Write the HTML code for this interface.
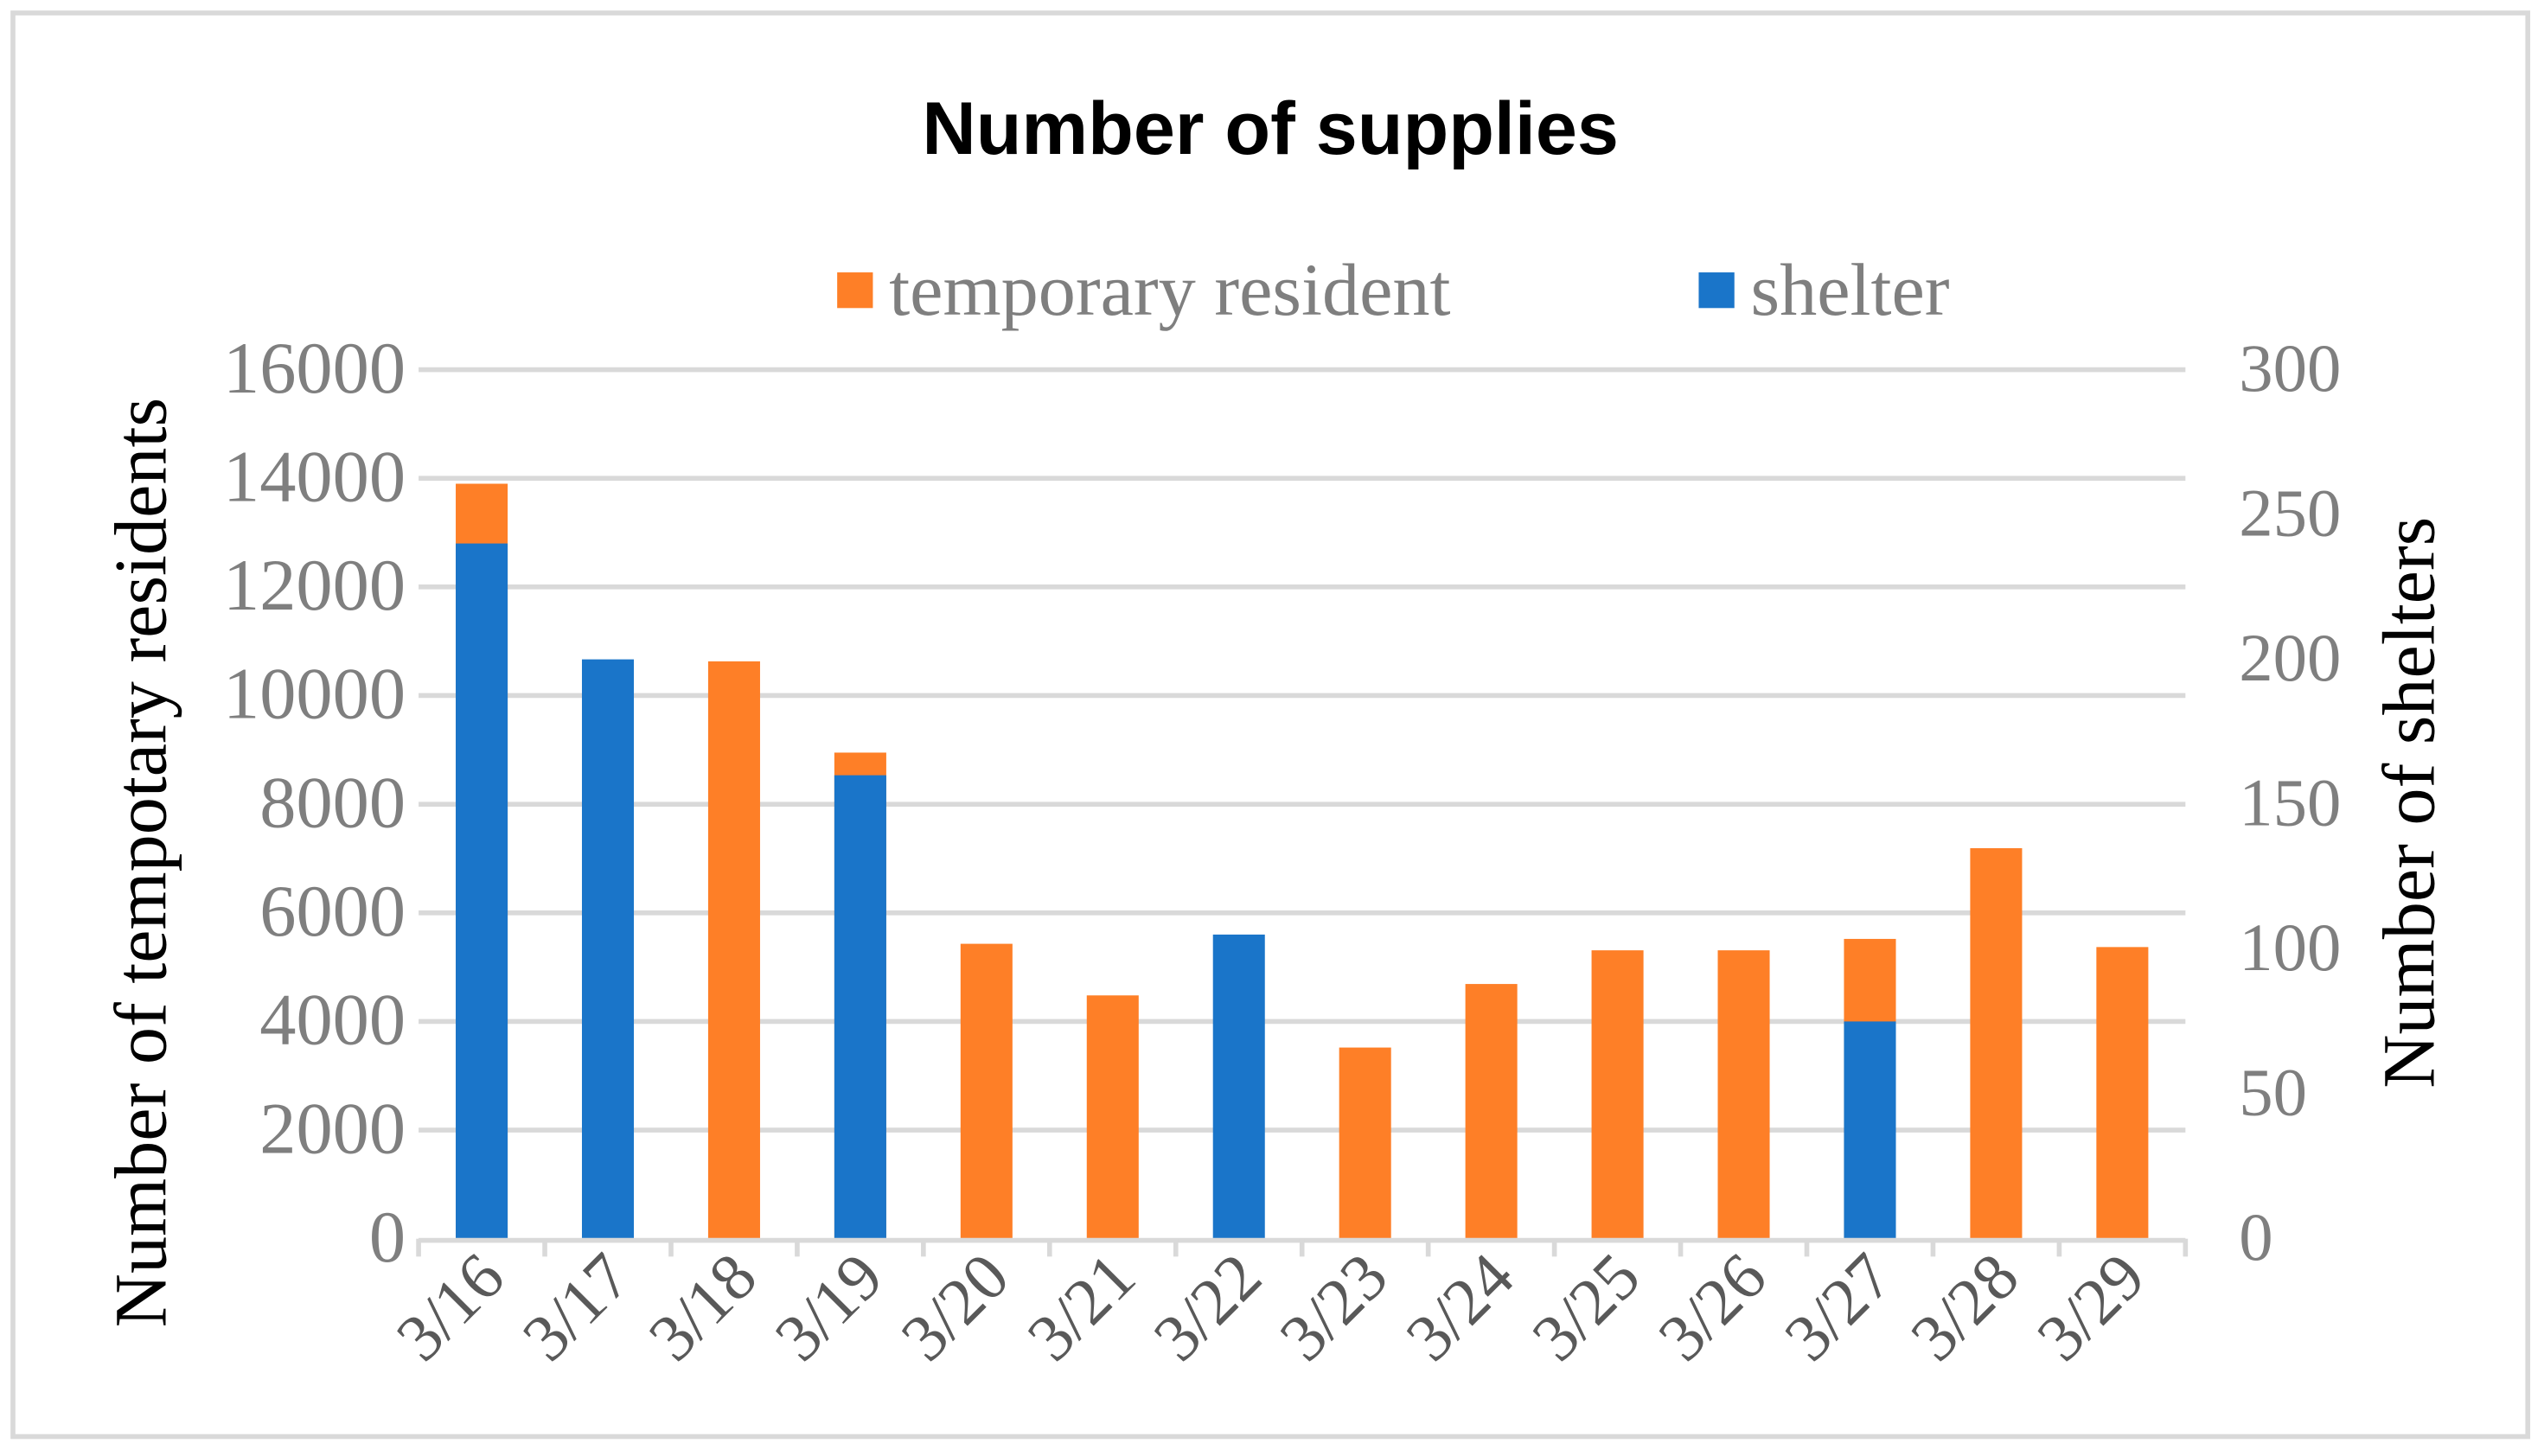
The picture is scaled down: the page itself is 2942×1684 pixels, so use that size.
<!DOCTYPE html>
<html><head><meta charset="utf-8"><style>
html,body{margin:0;padding:0;background:#fff;}
svg{display:block;}
</style></head><body>
<svg id="chart" width="2942" height="1684" viewBox="0 0 1568 898" preserveAspectRatio="none" xmlns="http://www.w3.org/2000/svg">
<rect x="8" y="8" width="1550" height="878" fill="#fff" stroke="#d9d9d9" stroke-width="3"/>
<text x="783" y="95" text-anchor="middle" font-family="Liberation Sans, sans-serif" font-weight="bold" font-size="46" fill="#000">Number of supplies</text>
<g>
<rect x="516" y="168" width="22" height="22" fill="#fe7f27"/>
<text x="548" y="194" font-family="Liberation Serif, serif" font-size="46" fill="#7f7f7f">temporary resident</text>
<rect x="1047" y="168" width="22" height="22" fill="#1a75c9"/>
<text x="1079" y="194" font-family="Liberation Serif, serif" font-size="46" fill="#7f7f7f">shelter</text>
</g>
<g id="grid"></g>
<g id="bars"></g>
<g id="axes"></g>
<text transform="translate(102,532) rotate(-90)" text-anchor="middle" font-family="Liberation Serif, serif" font-size="46" fill="#000">Number of tempotary residents</text>
<text transform="translate(1500,495) rotate(-90)" text-anchor="middle" font-family="Liberation Serif, serif" font-size="46" fill="#000">Number of shelters</text>
</svg>
<script>
const categories = ["3/16","3/17","3/18","3/19","3/20","3/21","3/22","3/23","3/24","3/25","3/26","3/27","3/28","3/29"];
const residents = [13900, 0, 10630, 8950, 5430, 4480, 0, 3520, 4690, 5310, 5310, 5520, 7190, 5370];
const shelters = [240, 200, 0, 160, 0, 0, 105, 0, 0, 0, 0, 75, 0, 0];
const leftTicks = [0,2000,4000,6000,8000,10000,12000,14000,16000];
const rightTicks = [0,50,100,150,200,250,300];

const NS="http://www.w3.org/2000/svg";
const X0=258, X1=1347, Y0=764, Y1=228;
const yL=v=>Y0-(v/16000)*(Y0-Y1);
const yR=v=>Y0-(v/300)*(Y0-Y1);
const step=(X1-X0)/categories.length;
const xc=i=>X0+step*(i+0.5);
const bw=32;
function mk(tag,attrs,parent){const e=document.createElementNS(NS,tag);for(const k in attrs)e.setAttribute(k,attrs[k]);parent.appendChild(e);return e;}
const grid=document.getElementById('grid'),bars=document.getElementById('bars'),axes=document.getElementById('axes');
leftTicks.forEach(t=>{
  if(t>0){const l=mk('line',{x1:X0,x2:X1,y1:yL(t),y2:yL(t),stroke:'#d9d9d9','stroke-width':3},grid);
  
  }
  const tx=mk('text',{x:250,y:yL(t)+14,'text-anchor':'end','font-family':'Liberation Serif, serif','font-size':45,fill:'#7f7f7f'},axes);
  tx.textContent=t;
  
  
});
rightTicks.forEach(t=>{
  const tx=mk('text',{x:1380,y:yR(t)+13,'text-anchor':'start','font-family':'Liberation Serif, serif','font-size':42,fill:'#7f7f7f'},axes);
  tx.textContent=t;
  
  
});
categories.forEach((c,i)=>{
  if(residents[i]>0){const r=mk('rect',{x:xc(i)-bw/2,y:yL(residents[i]),width:bw,height:Y0-yL(residents[i]),fill:'#fe7f27'},bars);
  
  }
  if(shelters[i]>0){const r=mk('rect',{x:xc(i)-bw/2,y:yR(shelters[i]),width:bw,height:Y0-yR(shelters[i]),fill:'#1a75c9'},bars);
  
  }
  const tx=mk('text',{transform:`translate(${xc(i)+16},${790}) rotate(-45)`,'text-anchor':'end','font-family':'Liberation Serif, serif','font-size':41,fill:'#595959'},axes);
  tx.textContent=c;
  
  
});
const ax=mk('line',{x1:X0,x2:X1,y1:Y0+1,y2:Y0+1,stroke:'#d9d9d9','stroke-width':3},axes);


for(let i=0;i<=categories.length;i++){
  const t=mk('line',{x1:X0+step*i,x2:X0+step*i,y1:Y0,y2:Y0+11,stroke:'#d9d9d9','stroke-width':3},axes);
  
  
}
</script>
</body></html>
